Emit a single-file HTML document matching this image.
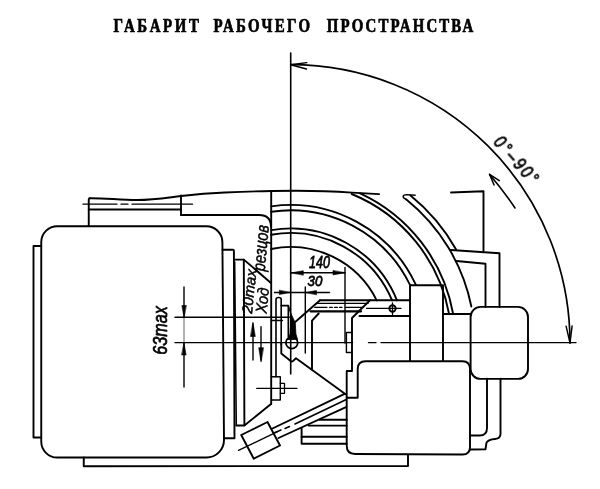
<!DOCTYPE html>
<html lang="ru"><head><meta charset="utf-8"><title>Габарит рабочего пространства</title>
<style>
html,body{margin:0;padding:0;background:#fff;}
body{width:600px;height:489px;overflow:hidden;position:relative;font-family:"Liberation Sans",sans-serif;}
svg{position:absolute;left:0;top:0;display:block;}
.ttl{font-family:"Liberation Serif",serif;font-weight:bold;font-size:18.6px;fill:#000;stroke:#000;stroke-width:0.7;}
.dr text{font-family:"Liberation Sans",sans-serif;}
</style></head>
<body>
<svg width="600" height="489" viewBox="0 0 600 489">
<defs><filter id="gs" x="-0.02" y="-0.3" width="1.04" height="1.6" filterUnits="objectBoundingBox" color-interpolation-filters="sRGB"><feColorMatrix type="saturate" values="0"/></filter></defs>
<rect x="0" y="0" width="600" height="489" fill="#fff"/>
<g class="ttl" filter="url(#gs)">
<text transform="translate(113.4,32.4) scale(0.8,1)" textLength="107.0" lengthAdjust="spacing">ГАБАРИТ</text>
<text transform="translate(213.4,32.4) scale(0.8,1)" textLength="120.7" lengthAdjust="spacing">РАБОЧЕГО</text>
<text transform="translate(326.8,32.4) scale(0.8,1)" textLength="183.0" lengthAdjust="spacing">ПРОСТРАНСТВА</text>
</g>
<g class="dr" fill="none" stroke="#000" stroke-linecap="round" stroke-linejoin="round">
<line x1="290.7" y1="53" x2="290.7" y2="374" stroke-width="1.6" />
<line x1="175" y1="342.6" x2="352.5" y2="342.6" stroke-width="1.45" />
<line x1="368.5" y1="342.6" x2="376" y2="342.6" stroke-width="1.45" />
<line x1="381" y1="342.6" x2="576" y2="342.6" stroke-width="1.45" />
<line x1="175" y1="317.3" x2="289.5" y2="317.3" stroke-width="1.4" />
<path d="M290.7,64.69999999999999 A279.3,278.3 0 0 1 570.0,343.0" stroke-width="1.7" />
<path d="M306.88,62.62 L290.70,64.70 L306.44,69.01" stroke-width="1.45" />
<path d="M566.11,326.18 L570.00,343.00 L572.11,325.87" stroke-width="1.45" />
<path d="M515,208 Q503,190 489.6,174.4" stroke-width="1.6" />
<path d="M499.28,180.64 L489.60,174.40 L494.07,185.01" stroke-width="1.5" />
<path d="M57.25,226.25 L206.5,226.25 A16,16 0 0 1 222.4,242.25 L224,440 A17.5,17.5 0 0 1 206.5,457.5 L57.25,457.5 A16,16 0 0 1 41.25,441.5 L41.25,242.25 A16,16 0 0 1 57.25,226.25 Z" stroke-width="1.9" />
<path d="M41.25,246 L33.5,246 L33.5,437.5 L41.25,437.5" stroke-width="1.9" />
<path d="M222.5,249.7 L232.9,249.7 Q233.9,249.7 233.9,250.7 L234.5,438.2 L224,438.2" stroke-width="1.9" />
<path d="M234,259.6 L243.8,259.6 L271,283" stroke-width="1.9" />
<line x1="234.7" y1="262" x2="236.3" y2="425.5" stroke-width="1.5" />
<line x1="243.8" y1="259.6" x2="244.4" y2="425.3" stroke-width="1.9" />
<path d="M236.3,425.5 L244.4,425.5 L271,404" stroke-width="1.9" />
<path d="M88.75,226 L88.75,199.4 Q88.75,198.2 90,198.2" stroke-width="1.9" />
<path d="M90,198.2 C105,198 120,200 137,200 C155,200 168,197.5 181,196 C195,194.3 210,193 225,192.5 C245,191.6 260,191.2 272,191 C300,190.3 330,191 352,192.6 L379,194.1" stroke-width="1.9" />
<line x1="88.75" y1="209.5" x2="181" y2="209.5" stroke-width="1.9" />
<line x1="181" y1="195.5" x2="181" y2="215" stroke-width="1.9" />
<path d="M181,215 L259,215 Q271,215 271,227" stroke-width="1.9" />
<line x1="83" y1="204.2" x2="117" y2="204.2" stroke-width="1.3" />
<line x1="121" y1="204.2" x2="128" y2="204.2" stroke-width="1.3" />
<line x1="132" y1="204.2" x2="192.5" y2="204.2" stroke-width="1.3" />
<line x1="271.2" y1="191" x2="271.2" y2="404" stroke-width="1.9" />
<path d="M271.20,206.38 A138.0,138.0 0 0 1 415.78,284.70" stroke-width="1.9" />
<path d="M271.20,211.74 A132.7,132.7 0 0 1 410.00,284.89" stroke-width="1.9" />
<path d="M271.20,230.17 A114.5,114.5 0 0 1 396.94,300.30" stroke-width="1.9" />
<path d="M271.20,234.74 A110.0,110.0 0 0 1 392.07,300.30" stroke-width="1.9" />
<path d="M271.20,249.00 A96.0,96.0 0 0 1 376.68,300.30" stroke-width="1.9" />
<path d="M360.09,193.30 A165.0,165.0 0 0 1 453.08,313.70" stroke-width="1.9" />
<path d="M351.69,194.00 A161.0,161.0 0 0 1 449.01,313.70" stroke-width="1.9" />
<path d="M410.22,195.30 A190.0,190.0 0 0 1 456.10,249.50" stroke-width="1.9" />
<path d="M406.35,199.50 A184.3,184.3 0 0 1 471.35,306.50" stroke-width="1.9" />
<path d="M406.2,199.5 C402,197.5 402,195 406.7,194.6 L415.2,195.3" stroke-width="1.4" />
<path d="M451,192.5 L483.5,191.3 L483.5,250.8" stroke-width="1.9" />
<path d="M451,250 L499.5,253.3 L499.5,307" stroke-width="1.9" />
<path d="M456.5,261 L485.5,263.75 L485.5,307" stroke-width="1.9" />
<rect x="470.6" y="306.9" width="57.39999999999998" height="72.0" rx="10" ry="10" stroke-width="1.9"/>
<path d="M410,361 L410,285.2 L443,285.2 L443,361" stroke-width="1.9" />
<line x1="443" y1="314" x2="470.5" y2="314" stroke-width="1.9" />
<path d="M365.5,361.3 L462.5,361.3 Q470,361.3 470,369 L470,447 Q470,454.5 462.5,454.5 L355,454 Q346.7,454 346.7,445.5 L346.7,397.8 L357.7,397.8 L357.7,369 Q357.7,361.3 365.5,361.3 Z" stroke-width="1.9" />
<path d="M83.75,457.5 L83.75,466.25 L408,466 L408,455" stroke-width="1.9" />
<path d="M487,378.75 L487,428 Q487,435.5 479.5,435.5 L470,435.5" stroke-width="1.9" />
<path d="M500.5,378.75 L500.5,434 Q500.5,438.5 495,439 Q488.5,439.5 486.5,442.5 L485.5,449.3 L470,449.5" stroke-width="1.9" />
<line x1="320" y1="300.2" x2="410" y2="300.2" stroke-width="1.9" />
<line x1="320" y1="300.2" x2="295.5" y2="321.8" stroke-width="1.9" />
<line x1="317.3" y1="303.4" x2="368" y2="303.4" stroke-width="1.4" />
<line x1="314.7" y1="307.3" x2="327" y2="307.3" stroke-width="1.2" />
<line x1="329.5" y1="307.3" x2="332.5" y2="307.3" stroke-width="1.2" />
<line x1="334.5" y1="307.3" x2="337.5" y2="307.3" stroke-width="1.2" />
<line x1="339.5" y1="307.3" x2="342" y2="307.3" stroke-width="1.2" />
<line x1="345.3" y1="307.3" x2="363" y2="307.3" stroke-width="1.2" />
<line x1="310.5" y1="311.3" x2="361" y2="311.3" stroke-width="2.3" />
<path d="M370,300.2 L352,318 L352,371 L346.7,371 L346.7,398" stroke-width="1.9" />
<line x1="359.5" y1="316.0" x2="410" y2="316.0" stroke-width="1.9" />
<path d="M318.7,313.5 L312,320.7 L312,369.5" stroke-width="1.9" />
<circle cx="392.5" cy="308.5" r="3.2" stroke-width="1.9"/>
<line x1="366.5" y1="308.3" x2="401" y2="308.3" stroke-width="1.3" />
<line x1="392.5" y1="303" x2="392.5" y2="314.5" stroke-width="1.3" />
<path d="M352,332.5 L346.4,332.5 L346.4,352.5 L352,352.5" stroke-width="1.4" />
<path d="M276,376.7 L276,299.5 Q276,297.5 278.6,297.5 Q281.2,297.5 281.2,299.5 L281.2,345" stroke-width="1.6" />
<path d="M281.2,305.6 L288.3,305.6 L288.3,337" stroke-width="1.6" />
<line x1="271.2" y1="320.5" x2="282.5" y2="320.5" stroke-width="1.4" />
<path d="M288.6,306 L289.8,311 L292.8,317.5 L295.3,323 L295.9,334 L297.6,339.5 L287.6,339.5 L290,334 L290.8,321 L290.3,312 Z" fill="#000" stroke-width="0.8"/>
<circle cx="291.8" cy="342.8" r="5.9" stroke-width="1.8"/>
<path d="M281.3,343 L281.3,353.5 L291.3,361.6 L292.6,361.4 L296,358.3 L345.6,394.2" stroke-width="1.9" />
<line x1="272.5" y1="428.5" x2="344.6" y2="393.9" stroke-width="1.9" />
<line x1="278.5" y1="438" x2="346" y2="407.2" stroke-width="1.9" />
<line x1="275" y1="432.5" x2="281" y2="430" stroke-width="1.5" />
<line x1="285" y1="428.5" x2="289.5" y2="426.5" stroke-width="1.5" />
<line x1="295" y1="424" x2="345.8" y2="399.8" stroke-width="1.65" />
<line x1="319.5" y1="419.7" x2="346.7" y2="419.7" stroke-width="1.9" />
<line x1="308.5" y1="425.6" x2="346.7" y2="425.6" stroke-width="1.9" />
<path d="M346.7,436.8 L301.6,436.8" stroke-width="1.9" />
<path d="M301.6,428 L301.6,443.8 L346.7,443.8" stroke-width="1.9" />
<path d="M241.25,435 L267.5,422 L280,445.5 L253.75,458.75 L241.25,435" stroke-width="1.9" />
<line x1="238.5" y1="450.3" x2="277.5" y2="431.7" stroke-width="1.4" />
<path d="M271.2,376.7 L280.3,376.7 L280.3,400 L271.2,400" stroke-width="1.4" />
<path d="M280.3,383.3 L284.5,383.3 L284.5,393.3 L280.3,393.3" stroke-width="1.3" />
<line x1="256.7" y1="388.3" x2="297" y2="388.3" stroke-width="1.3" />
<line x1="290.7" y1="272.8" x2="345" y2="272.8" stroke-width="1.4" />
<path d="M291.30,272.80 L303.30,270.70 L303.30,274.90 Z" fill="#000" stroke-width="0.6"/>
<path d="M345.00,272.80 L333.00,274.90 L333.00,270.70 Z" fill="#000" stroke-width="0.6"/>
<line x1="345" y1="267.5" x2="345" y2="343" stroke-width="1.4" />
<line x1="274.5" y1="292.5" x2="329.5" y2="292.5" stroke-width="1.4" />
<path d="M290.30,292.50 L279.30,294.50 L279.30,290.50 Z" fill="#000" stroke-width="0.6"/>
<path d="M305.50,292.50 L316.50,290.50 L316.50,294.50 Z" fill="#000" stroke-width="0.6"/>
<line x1="305.3" y1="287" x2="305.3" y2="353" stroke-width="1.4" />
<line x1="184" y1="287" x2="184" y2="317.5" stroke-width="1.4" />
<path d="M184.00,317.50 L181.90,305.50 L186.10,305.50 Z" fill="#000" stroke-width="0.6"/>
<line x1="184" y1="343" x2="184" y2="387" stroke-width="1.4" />
<path d="M184.00,343.00 L186.10,355.00 L181.90,355.00 Z" fill="#000" stroke-width="0.6"/>
<line x1="184" y1="317.5" x2="184" y2="343" stroke-width="0.6" />
<line x1="253" y1="324" x2="253" y2="360" stroke-width="1.4" />
<path d="M253.00,322.50 L255.30,336.50 L250.70,336.50 Z" fill="#000" stroke-width="0.6"/>
<line x1="261" y1="326.7" x2="261" y2="360" stroke-width="1.4" />
<path d="M261.00,361.70 L258.70,347.70 L263.30,347.70 Z" fill="#000" stroke-width="0.6"/>
<g opacity="0.999">
<text transform="translate(167,330.5) rotate(-90) scale(0.79,1) skewX(0)" font-size="20.5" letter-spacing="0" text-anchor="middle" font-style="italic" font-weight="normal" fill="#000" stroke="#000" stroke-width="0.7">63max</text>
<text transform="translate(254.2,292) rotate(-84) scale(1.0,1) skewX(0)" font-size="14.8" letter-spacing="0" text-anchor="middle" font-style="italic" font-weight="normal" fill="#000" stroke="#000" stroke-width="0.45">20max</text>
<text transform="translate(267.8,301) rotate(-84) scale(0.92,1) skewX(0)" font-size="16" letter-spacing="0" text-anchor="middle" font-style="italic" font-weight="normal" fill="#000" stroke="#000" stroke-width="0.45">Ход</text>
<text transform="translate(266.8,248.5) rotate(-85) scale(0.8,1) skewX(0)" font-size="18" letter-spacing="0" text-anchor="middle" font-style="italic" font-weight="normal" fill="#000" stroke="#000" stroke-width="0.45">резцов</text>
<text transform="translate(319.5,268.2) rotate(0) scale(0.76,1) skewX(0)" font-size="16.5" letter-spacing="0" text-anchor="middle" font-style="italic" font-weight="normal" fill="#000" stroke="#000" stroke-width="0.75">140</text>
<text transform="translate(315,285.6) rotate(0) scale(0.86,1) skewX(0)" font-size="15.5" letter-spacing="0" text-anchor="middle" font-style="italic" font-weight="normal" fill="#000" stroke="#000" stroke-width="0.75">30</text>
<text transform="translate(512.2,164.8) rotate(48.5) scale(0.8,1) skewX(0)" font-size="19" letter-spacing="2.8" text-anchor="middle" font-style="italic" font-weight="normal" fill="#000" stroke="#000" stroke-width="0.75">0°–90°</text>
</g>
</g>
</svg>
</body></html>
